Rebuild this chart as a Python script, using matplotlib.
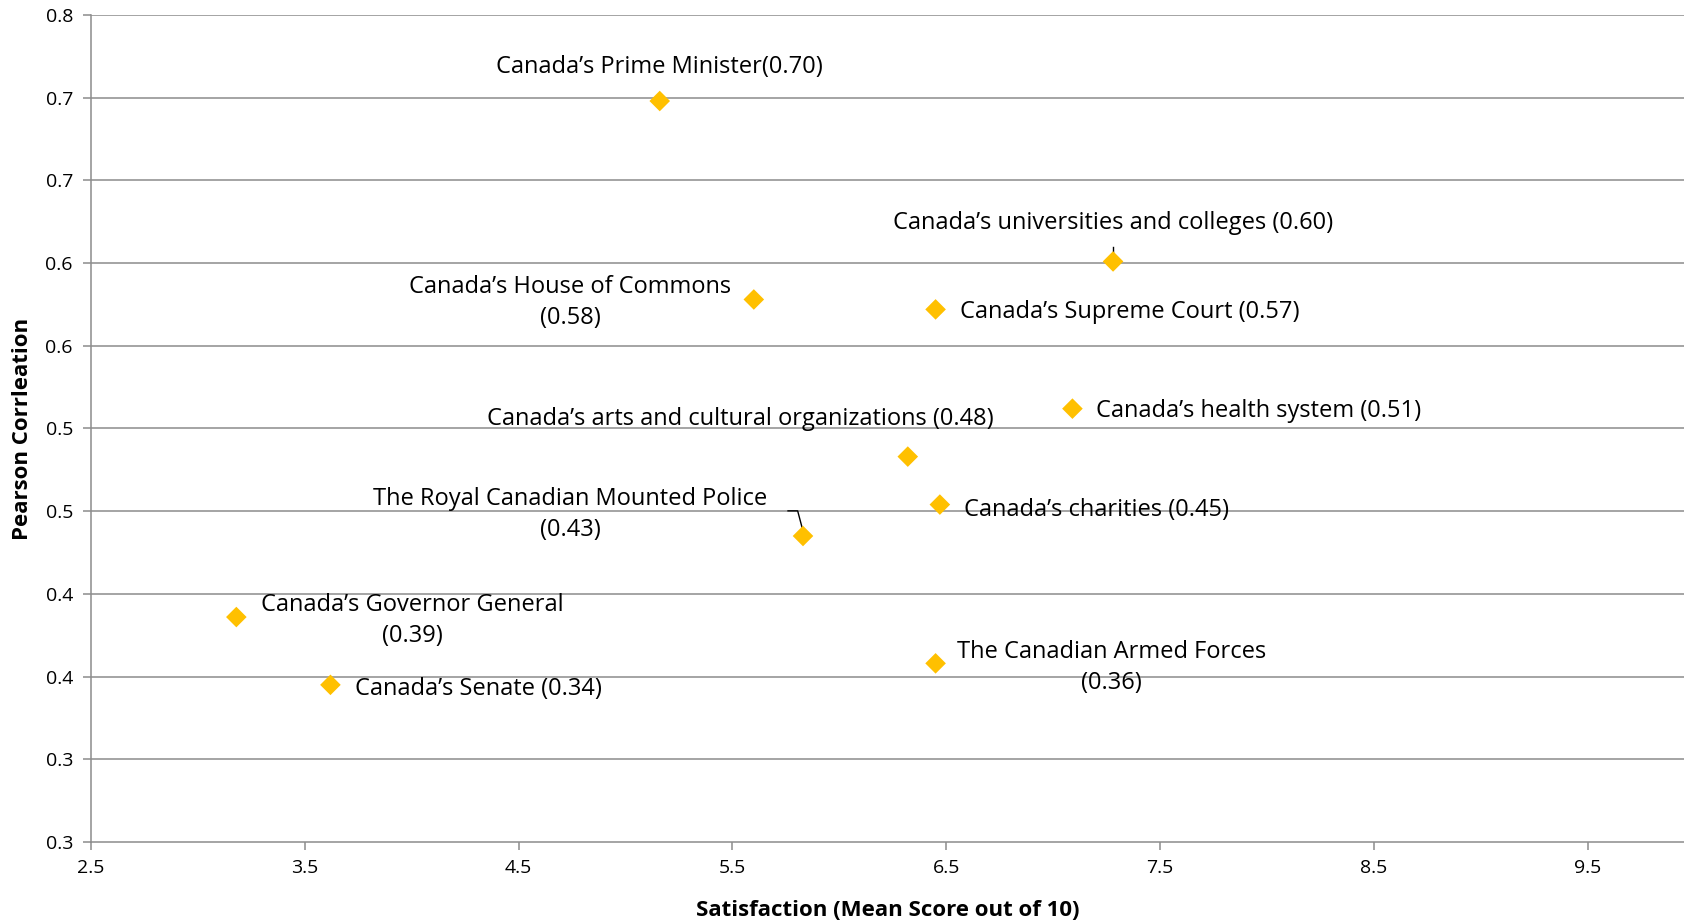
import matplotlib
matplotlib.use("Agg")
import matplotlib.pyplot as plt

plt.rcParams["font.family"] = ["Open Sans", "DejaVu Sans"]

# data
names = [
    "Canada\u2019s Prime Minister",
    "Canada\u2019s universities and colleges",
    "Canada\u2019s House of Commons",
    "Canada\u2019s Supreme Court",
    "Canada\u2019s health system",
    "Canada\u2019s arts and cultural organizations",
    "Canada\u2019s charities",
    "The Royal Canadian Mounted Police",
    "Canada\u2019s Governor General",
    "Canada\u2019s Senate",
    "The Canadian Armed Forces",
]
satisfaction = [5.16, 7.28, 5.60, 6.45, 7.09, 6.32, 6.47, 5.83, 3.18, 3.62, 6.45]
correlation = [0.698, 0.601, 0.578, 0.572, 0.512, 0.483, 0.454, 0.435, 0.386, 0.345, 0.358]
value_text = ["0.70", "0.60", "0.58", "0.57", "0.51", "0.48", "0.45", "0.43", "0.39", "0.34", "0.36"]

x_ticks = [2.5, 3.5, 4.5, 5.5, 6.5, 7.5, 8.5, 9.5]
y_ticks = [0.25, 0.30, 0.35, 0.40, 0.45, 0.50, 0.55, 0.60, 0.65, 0.70, 0.75]
y_tick_labels = ["0.3", "0.3", "0.4", "0.4", "0.5", "0.5", "0.6", "0.6", "0.7", "0.7", "0.8"]

# label placement: (x, y, text template, alignment)
label_pos = [
    (5.16, 0.7185, "{n}({v})", "center"),
    (7.28, 0.624, "{n} ({v})", "center"),
    (4.74, 0.576, "{n}\n({v})", "center"),
    (6.565, 0.5702, "{n} ({v})", "left"),
    (7.20, 0.5105, "{n} ({v})", "left"),
    (5.535, 0.506, "{n} ({v})", "center"),
    (6.585, 0.4508, "{n} ({v})", "left"),
    (4.74, 0.4482, "{n}\n({v})", "center"),
    (4.005, 0.384, "{n}\n({v})", "center"),
    (3.736, 0.3425, "{n} ({v})", "left"),
    (7.274, 0.3555, "{n}\n({v})", "center"),
]

fig = plt.figure(figsize=(16.84, 9.21), dpi=100)
ax = fig.add_axes([0.054, 0.0858, 0.946, 0.8979])

grid_color = "#8c8c8c"
for y in y_ticks[1:]:
    ax.axhline(y, color=grid_color, linewidth=1.1, zorder=1)

ax.scatter(satisfaction, correlation, marker="D", s=110, color="#FFC000",
           edgecolors="none", zorder=3)

for (lx, ly, tmpl, ha), n, v in zip(label_pos, names, value_text):
    ax.text(lx, ly, tmpl.format(n=n, v=v), ha=ha, va="center",
            fontsize=17, linespacing=1.4, color="#000000", zorder=4)

# leader lines
i = names.index("Canada\u2019s universities and colleges")
ax.plot([satisfaction[i], satisfaction[i]], [correlation[i], correlation[i] + 0.009],
        color="black", linewidth=1, zorder=2)
i = names.index("The Royal Canadian Mounted Police")
ax.plot([satisfaction[i] - 0.07, satisfaction[i] - 0.025, satisfaction[i]],
        [0.4497 + 0.0005, 0.4497 + 0.0005, correlation[i] + 0.003],
        color="black", linewidth=1, zorder=2)

ax.set_xlim(2.5, 9.95)
ax.set_ylim(0.25, 0.75)
ax.set_xticks(x_ticks)
ax.set_xticklabels([f"{t}" for t in x_ticks])
ax.set_yticks(y_ticks)
ax.set_yticklabels(y_tick_labels)
ax.tick_params(axis="both", labelsize=14, color=grid_color, length=6, width=1.1)
ax.tick_params(axis="x", pad=6)
ax.tick_params(axis="y", pad=7)

for s in ["top", "right"]:
    ax.spines[s].set_visible(False)
for s in ["left", "bottom"]:
    ax.spines[s].set_color(grid_color)
    ax.spines[s].set_linewidth(1.1)

ax.set_xlabel("Satisfaction (Mean Score out of 10)", fontsize=16,
              fontweight="bold", labelpad=17)
ax.set_ylabel("Pearson Corrleation", fontsize=16, fontweight="bold", labelpad=9)

fig.savefig("out.png", dpi=100)
